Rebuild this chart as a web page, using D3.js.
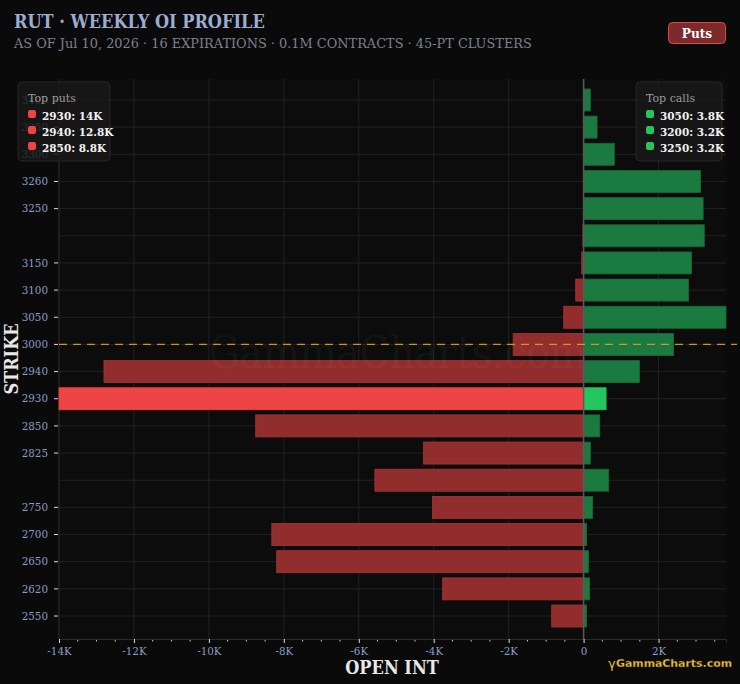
<!DOCTYPE html>
<html><head><meta charset="utf-8">
<script src="https://cdn.jsdelivr.net/npm/d3@7"></script>
<style>
html,body{margin:0;padding:0;background:#0a0a0a;}
svg{display:block;}
</style></head>
<body>
<svg id="c" width="740" height="684"></svg>
<script>
// ---- data ----
const strikes = ["3400","3350","3300","3260","3250","3200","3150","3100","3050","3000","2940","2930","2850","2825","2800","2750","2700","2650","2620","2550"];
const puts  = [0,0,0,0,0,20,50,210,530,1880,12800,14000,8750,4270,5570,4030,8320,8190,3760,850];
const calls = [180,360,820,3120,3190,3220,2880,2800,3800,2400,1490,600,430,180,670,240,80,130,160,80];
const xTicks = [-14000,-12000,-10000,-8000,-6000,-4000,-2000,0,2000];
const unlabeledStrikes = ["3200","2800"];
const spotStrike = "3000";
const highlightStrike = "2930";
const titleText = "RUT · WEEKLY OI PROFILE";
const subtitleText = "AS OF Jul 10, 2026 · 16 EXPIRATIONS · 0.1M CONTRACTS · 45-PT CLUSTERS";

const SERIF = "'DejaVu Serif Condensed','DejaVu Serif',serif";
const SERIF_N = "'DejaVu Serif',serif";
const svg = d3.select("#c");
svg.append("rect").attr("width",740).attr("height",684).attr("fill","#0a0a0a");

const L = 59, R = 726, T = 79, B = 639;
const x = d3.scaleLinear().domain([-14000, 3800]).range([L, R]);
const y = d3.scaleBand().domain(strikes).range([86.4, 629.6]).paddingInner(0.19).paddingOuter(0.095);
const yc = s => y(s) + y.bandwidth()/2;

// plot bg
svg.append("rect").attr("x",L).attr("y",T).attr("width",R-L).attr("height",B-T).attr("fill","#0c0c0c");

// grid
const g = svg.append("g");
g.selectAll(".hg").data(strikes).join("line")
  .attr("x1",L).attr("x2",R).attr("y1",d=>yc(d)).attr("y2",d=>yc(d))
  .attr("stroke","#222").attr("stroke-width",1);
g.selectAll(".vg").data(xTicks).join("line")
  .attr("x1",d=>x(d)).attr("x2",d=>x(d)).attr("y1",T).attr("y2",B)
  .attr("stroke",d=>d===-14000?"#2e2e2e":"#222").attr("stroke-width",1);

// bars
const rows = strikes.map((s,i)=>({s, p:puts[i], c:calls[i]}));
svg.append("g").selectAll("rect").data(rows.filter(d=>d.p>0)).join("rect")
  .attr("x",d=>x(-d.p)).attr("width",d=>x(0)-x(-d.p))
  .attr("y",d=>y(d.s)).attr("height",y.bandwidth())
  .attr("fill",d=>d.s===highlightStrike?"#ef4444":"#922d2e")
  .attr("stroke",d=>d.s===highlightStrike?"#ef4444":"#a83536").attr("stroke-width",0.8);
svg.append("g").selectAll("rect").data(rows.filter(d=>d.c>0)).join("rect")
  .attr("x",x(0)).attr("width",d=>x(d.c)-x(0))
  .attr("y",d=>y(d.s)).attr("height",y.bandwidth())
  .attr("fill",d=>d.s===highlightStrike?"#22c55e":"#1b7a3f")
  .attr("stroke",d=>d.s===highlightStrike?"#22c55e":"#176a36").attr("stroke-width",0.8);

// watermark (over bars)
svg.append("text").attr("x",(L+R)/2+5).attr("y",368).attr("text-anchor","middle")
  .attr("font-family",SERIF_N).attr("font-size",44).attr("fill","rgba(255,255,255,0.055)")
  .attr("textLength",378).attr("lengthAdjust","spacingAndGlyphs")
  .text("GammaCharts.com");

// zero line
svg.append("line").attr("x1",x(0)).attr("x2",x(0)).attr("y1",T).attr("y2",B)
  .attr("stroke","#5a5a5a").attr("stroke-width",1.5);

// spot line
svg.append("line").attr("x1",L).attr("x2",737).attr("y1",yc(spotStrike)).attr("y2",yc(spotStrike))
  .attr("stroke","#e0a020").attr("stroke-width",1.4).attr("stroke-dasharray","8,6").attr("opacity",0.9);

// y axis
const yAxis = d3.axisLeft(y).tickValues(strikes.filter(s=>!unlabeledStrikes.includes(s))).tickSize(4).tickPadding(6);
const ya = svg.append("g").attr("transform",`translate(${L-1},0)`).call(yAxis);
ya.select(".domain").remove();
ya.selectAll("line").attr("stroke","#ddd");
ya.selectAll("text").attr("fill","#8c9cc4").attr("font-family",SERIF).attr("font-size",11.5);

// x axis
const fmtK = v => v===0 ? "0" : (v/1000)+"K";
const xAxis = d3.axisBottom(x).tickValues(xTicks).tickFormat(fmtK).tickSize(4).tickPadding(4);
const xa = svg.append("g").attr("transform",`translate(0,${B})`).call(xAxis);
xa.select(".domain").attr("stroke","#2a2a2a");
xa.selectAll("line").attr("stroke","#ddd");
xa.selectAll("text").attr("fill","#8c9cc4").attr("font-family",SERIF).attr("font-size",11.5);
const minor = d3.range(-13500, 3800, 500).filter(v=>v%2000!==0);
xa.selectAll(".mn").data(minor).join("line")
  .attr("x1",d=>x(d)).attr("x2",d=>x(d)).attr("y1",1).attr("y2",2.5)
  .attr("stroke","#ccc").attr("stroke-width",1);

// axis titles
svg.append("text").attr("x",392).attr("y",674).attr("text-anchor","middle")
  .attr("font-family",SERIF).attr("font-weight","bold").attr("font-size",18).attr("fill","#e8e8e8").text("OPEN INT");
svg.append("text").attr("transform","translate(18,359) rotate(-90)").attr("text-anchor","middle")
  .attr("font-family",SERIF).attr("font-weight","bold").attr("font-size",18).attr("fill","#e8e8e8").text("STRIKE");

// title
svg.append("text").attr("x",14).attr("y",28).attr("font-family",SERIF).attr("font-weight","bold")
  .attr("font-size",18).attr("fill","#9dadd2").text(titleText);
svg.append("text").attr("x",14).attr("y",48).attr("font-family",SERIF_N)
  .attr("font-size",12.9).attr("fill","#7c828c").text(subtitleText);

// Puts button
const btn = svg.append("g");
btn.append("rect").attr("x",668.5).attr("y",22.5).attr("width",57).attr("height",21).attr("rx",4)
  .attr("fill","#7c2a2c").attr("stroke","#e04848").attr("stroke-width",1);
btn.append("text").attr("x",697).attr("y",38).attr("text-anchor","middle").attr("font-family",SERIF)
  .attr("font-weight","bold").attr("font-size",13.5).attr("fill","#fff").text("Puts");

// legends
const fmtV = v => (Math.round(v/100)/10)+"K";
function legend(x0, w, title, data, color){
  const lg = svg.append("g");
  lg.append("rect").attr("x",x0).attr("y",82).attr("width",w).attr("height",79).attr("rx",4)
    .attr("fill","rgba(24,24,24,0.82)").attr("stroke","#262626");
  lg.append("text").attr("x",x0+10).attr("y",102).attr("font-family",SERIF_N).attr("font-size",11)
    .attr("fill","#9a9a9a").text(title);
  data.forEach((d,i)=>{
    lg.append("rect").attr("x",x0+10).attr("y",110+i*16).attr("width",8).attr("height",8).attr("rx",2).attr("fill",color);
    lg.append("text").attr("x",x0+24).attr("y",119.5+i*16).attr("font-family",SERIF_N).attr("font-weight","bold")
      .attr("font-size",10.5).attr("fill","#f2f2f2").text(`${d.s}: ${fmtV(d.v)}`);
  });
}
const topP = rows.map(d=>({s:d.s,v:d.p})).sort((a,b)=>b.v-a.v).slice(0,3);
const topC = rows.map(d=>({s:d.s,v:d.c})).sort((a,b)=>b.v-a.v).slice(0,3);
legend(18, 92, "Top puts", topP, "#ef4444");
legend(636, 86, "Top calls", topC, "#22c55e");

// logo
const lgo = svg.append("g");
lgo.append("text").attr("x",608).attr("y",668).attr("font-family","'DejaVu Sans',sans-serif").attr("font-size",13)
  .attr("fill","#e8b820").text("γ");
lgo.append("text").attr("x",616).attr("y",667).attr("font-family","'DejaVu Sans',sans-serif").attr("font-weight","bold")
  .attr("font-size",11).attr("fill","#f0c43c").attr("stroke","#3a2a00").attr("stroke-width",0.3)
  .attr("textLength",116).attr("lengthAdjust","spacingAndGlyphs").text("GammaCharts.com");
</script>
</body></html>
